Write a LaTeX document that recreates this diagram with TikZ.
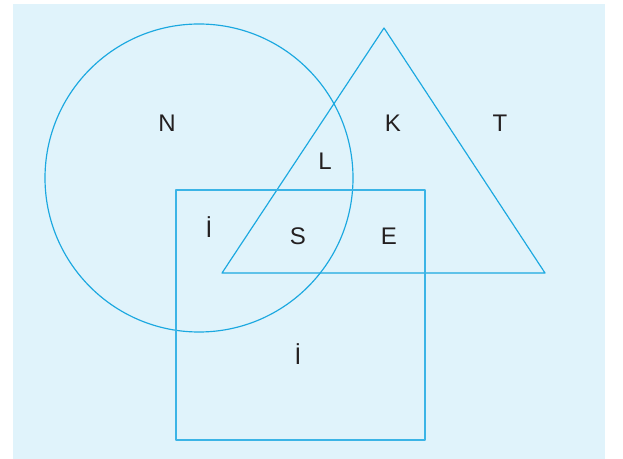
\documentclass[tikz,border=0pt]{standalone}
\usepackage{fontspec}
\setmainfont{Liberation Sans}
\usepackage{xcolor}
\definecolor{bgblue}{HTML}{E0F3FB}
\definecolor{lineblue}{HTML}{1BA8E0}
\definecolor{boxblue}{HTML}{3BB4E6}
\definecolor{txtgray}{HTML}{231F20}
\tikzset{
    lab/.style={
        text=txtgray, font=\fontsize{20.5}{24}\selectfont, inner sep=0pt
    },
    shapeline/.style={
        line width=1pt
    }
}

\begin{document}
\begin{tikzpicture}[x=0.03cm,y=-0.03cm, line cap=round, line join=round]

\useasboundingbox (0,0) rectangle (623,459);
\fill[bgblue] (13,4) rectangle (605,459);

% N: circle
\draw[shapeline, lineblue] (199,178) circle (154);

% T: triangle
\draw[shapeline, lineblue] (384,28) -- (545,273) -- (222,273) -- cycle;

% I: square
\draw[shapeline, boxblue] (176,190) rectangle (425,440);

% region letters
\node[lab] (n)  at (167,123) {N};
\node[lab] (k)  at (393,123.5) {K};
\node[lab] (t)  at (500,123) {T};
\node[lab] (l)  at (325,161.5) {L};
\node[lab] (i1) at (209,227.5) {İ};
\node[lab] (s)  at (298,236) {S};
\node[lab] (e)  at (389,236) {E};
\node[lab] (i2) at (298,354) {İ};

\end{tikzpicture}
\end{document}
